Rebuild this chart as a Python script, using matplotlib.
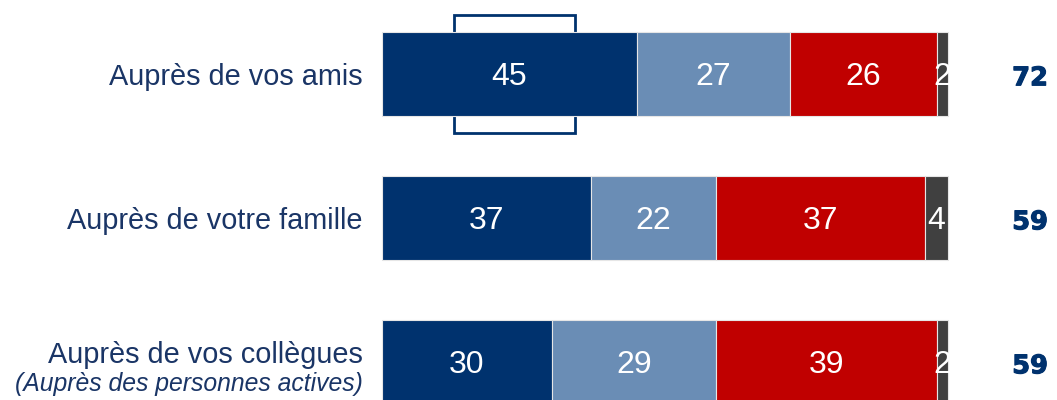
import matplotlib.pyplot as plt
import matplotlib.patheffects as pe
from matplotlib.patches import Rectangle
import numpy as np

categories = ['Auprès de vos amis', 'Auprès de votre famille', 'Auprès de vos collègues']
subtitles = ['', '', '(Auprès des personnes actives)']
seg1 = [45, 37, 30]
seg2 = [27, 22, 29]
seg3 = [26, 37, 39]
seg4 = [2, 4, 2]
totals = [72, 59, 59]

colors = ['#00326e', '#6a8db5', '#c00000', '#404040']
navy = '#00326e'
label_col = '#1a3566'

fig = plt.figure(figsize=(10.57, 4), dpi=100)
ax = fig.add_axes([0, 0, 1, 1])
ax.set_xlim(-67.49, 119.26)
ax.set_ylim(2.264, -0.514)
ax.axis('off')

y = np.arange(len(categories))
h = 84 / 144

# highlight box behind the first segment of the first bar
bx = seg1[0] / 2 + 0.9
box = Rectangle((bx - 10.7, -h * 0.7), 21.4, h * 1.4, facecolor='white',
                edgecolor=navy, linewidth=2, zorder=1)
ax.add_patch(box)

left = np.zeros(len(categories))
for vals, c in zip([seg1, seg2, seg3, seg4], colors):
    vals = np.array(vals)
    ax.barh(y, vals, left=left, height=h, color=c, edgecolor='#e6e6e6',
            linewidth=0.8, zorder=2)
    for yi, l, v in zip(y, left, vals):
        ax.text(l + v / 2, yi + 0.02, str(v), color='white', fontsize=23,
                ha='center', va='center', family='Liberation Sans', zorder=3)
    left += vals

for yi, cat, sub, t in zip(y, categories, subtitles, totals):
    if sub:
        ax.text(-3.4, yi - 0.05, cat, color=label_col, fontsize=20.8, ha='right',
                va='center', family='Liberation Sans')
        ax.text(-3.4, yi + 0.15, sub, color=label_col, fontsize=17.8, ha='right',
                va='center', style='italic', family='Liberation Sans')
    else:
        ax.text(-3.4, yi + 0.02, cat, color=label_col, fontsize=20.8, ha='right',
                va='center', family='Liberation Sans')
    ax.text(114.5, yi + 0.03, str(t), color=navy, fontsize=18.5, ha='center',
            va='center', fontweight='bold', family='DejaVu Sans',
            path_effects=[pe.withStroke(linewidth=0.8, foreground=navy)])

fig.savefig('out.png', dpi=100)
